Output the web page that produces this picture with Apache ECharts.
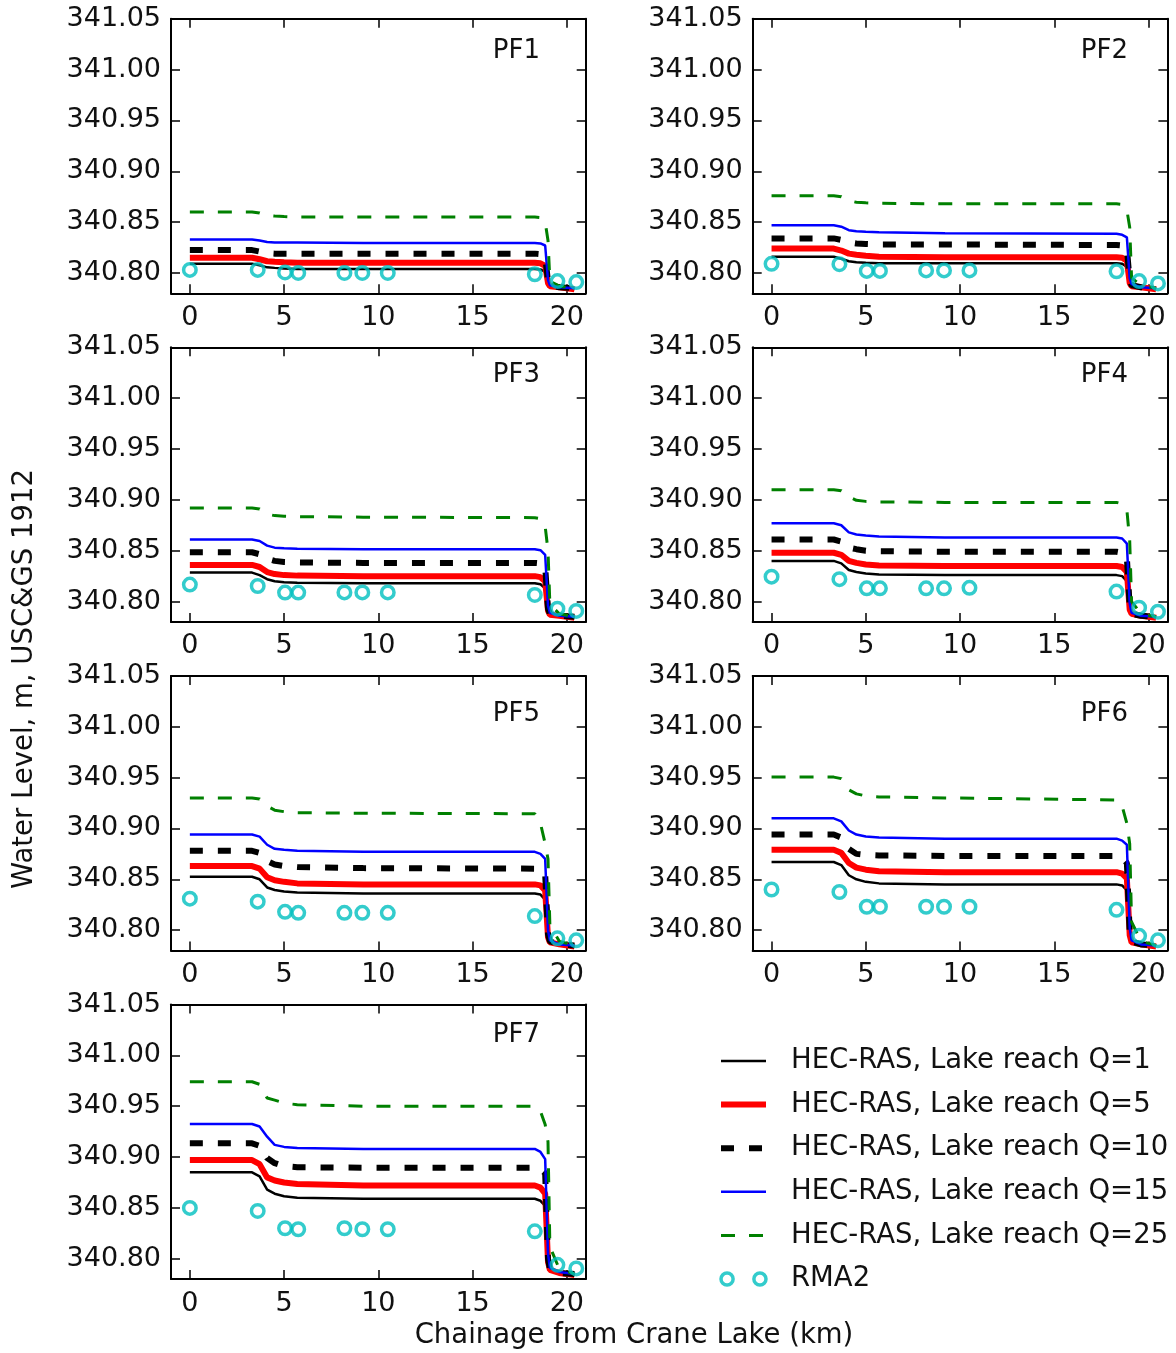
<!DOCTYPE html>
<html>
<head>
<meta charset="utf-8">
<title>Water level profiles</title>
<script src="https://cdn.jsdelivr.net/npm/echarts@6/dist/echarts.min.js"></script>
<style>
  html, body { margin: 0; background: #fff; }
  #chart { width: 1176px; height: 1353px; }
</style>
</head>
<body>
<div id="chart"></div>
<script>
// profile names (one panel each)
const panels = ['PF1', 'PF2', 'PF3', 'PF4', 'PF5', 'PF6', 'PF7'];

// chainage of the HEC-RAS profile points (km)
const chainage = [0, 3.3, 3.7, 4.1, 4.5, 5.0, 5.7, 9.2, 18.3, 18.6, 18.85, 19.0, 19.1, 19.6, 20.4];
// chainage of the RMA2 points (km)
const rmaChainage = [0, 3.6, 5.05, 5.75, 8.2, 9.15, 10.5, 18.3, 19.5, 20.5];

// HEC-RAS water levels, one row per panel (PF1..PF7)
const levelsQ1 = [
  [340.809, 340.809, 340.8075, 340.8055, 340.805, 340.8045, 340.804, 340.804, 340.804, 340.8035, 340.801, 340.789, 340.787, 340.786, 340.784],
  [340.816, 340.816, 340.814, 340.8115, 340.8105, 340.810, 340.8095, 340.8095, 340.8095, 340.809, 340.806, 340.789, 340.787, 340.786, 340.784],
  [340.8285, 340.8285, 340.826, 340.822, 340.820, 340.819, 340.8185, 340.818, 340.818, 340.817, 340.813, 340.790, 340.787, 340.786, 340.784],
  [340.840, 340.840, 340.8375, 340.831, 340.829, 340.8275, 340.8265, 340.826, 340.826, 340.825, 340.820, 340.791, 340.787, 340.786, 340.784],
  [340.8525, 340.8525, 340.850, 340.842, 340.8395, 340.838, 340.837, 340.836, 340.836, 340.835, 340.830, 340.792, 340.788, 340.786, 340.784],
  [340.867, 340.867, 340.864, 340.854, 340.850, 340.8475, 340.846, 340.845, 340.845, 340.844, 340.839, 340.793, 340.788, 340.786, 340.784],
  [340.885, 340.885, 340.881, 340.868, 340.864, 340.8615, 340.860, 340.859, 340.859, 340.857, 340.852, 340.795, 340.789, 340.786, 340.784]
];
const levelsQ5 = [
  [340.815, 340.815, 340.8135, 340.8115, 340.811, 340.8105, 340.810, 340.810, 340.810, 340.8095, 340.807, 340.790, 340.787, 340.786, 340.784],
  [340.824, 340.824, 340.822, 340.819, 340.818, 340.817, 340.816, 340.8155, 340.8155, 340.815, 340.812, 340.790, 340.787, 340.786, 340.784],
  [340.836, 340.836, 340.834, 340.829, 340.827, 340.826, 340.8255, 340.825, 340.825, 340.824, 340.820, 340.791, 340.787, 340.786, 340.784],
  [340.848, 340.848, 340.846, 340.840, 340.838, 340.8365, 340.8355, 340.835, 340.835, 340.834, 340.829, 340.792, 340.788, 340.786, 340.784],
  [340.863, 340.863, 340.8605, 340.852, 340.849, 340.8475, 340.846, 340.845, 340.845, 340.844, 340.839, 340.793, 340.788, 340.786, 340.784],
  [340.879, 340.879, 340.876, 340.866, 340.8615, 340.8595, 340.858, 340.857, 340.857, 340.8555, 340.851, 340.795, 340.788, 340.786, 340.784],
  [340.897, 340.897, 340.893, 340.880, 340.877, 340.875, 340.8735, 340.872, 340.872, 340.870, 340.864, 340.797, 340.789, 340.786, 340.784]
];
const levelsQ10 = [
  [340.8225, 340.8225, 340.821, 340.8195, 340.819, 340.819, 340.819, 340.819, 340.819, 340.8185, 340.816, 340.792, 340.788, 340.786, 340.785],
  [340.834, 340.834, 340.8325, 340.830, 340.829, 340.8285, 340.828, 340.828, 340.8275, 340.827, 340.824, 340.792, 340.788, 340.786, 340.785],
  [340.8485, 340.8485, 340.8465, 340.842, 340.840, 340.839, 340.8385, 340.838, 340.838, 340.8375, 340.834, 340.793, 340.788, 340.786, 340.785],
  [340.861, 340.861, 340.859, 340.853, 340.8515, 340.850, 340.8495, 340.849, 340.849, 340.848, 340.843, 340.795, 340.788, 340.786, 340.785],
  [340.878, 340.878, 340.876, 340.868, 340.8645, 340.863, 340.862, 340.861, 340.8605, 340.859, 340.855, 340.796, 340.789, 340.786, 340.785],
  [340.894, 340.894, 340.891, 340.880, 340.875, 340.874, 340.8735, 340.873, 340.873, 340.8715, 340.866, 340.798, 340.789, 340.786, 340.785],
  [340.9135, 340.9135, 340.911, 340.899, 340.894, 340.891, 340.890, 340.8895, 340.8895, 340.888, 340.884, 340.800, 340.790, 340.786, 340.785]
];
const levelsQ15 = [
  [340.833, 340.833, 340.832, 340.8305, 340.830, 340.830, 340.830, 340.8295, 340.8295, 340.829, 340.827, 340.793, 340.788, 340.786, 340.785],
  [340.847, 340.847, 340.8455, 340.842, 340.841, 340.8405, 340.840, 340.839, 340.8385, 340.8375, 340.835, 340.795, 340.789, 340.786, 340.785],
  [340.861, 340.861, 340.8595, 340.855, 340.853, 340.8525, 340.852, 340.8515, 340.8515, 340.8505, 340.846, 340.796, 340.789, 340.786, 340.785],
  [340.877, 340.877, 340.875, 340.868, 340.866, 340.865, 340.864, 340.863, 340.863, 340.862, 340.857, 340.798, 340.789, 340.786, 340.785],
  [340.894, 340.894, 340.892, 340.884, 340.880, 340.879, 340.878, 340.877, 340.877, 340.875, 340.870, 340.800, 340.790, 340.786, 340.785],
  [340.910, 340.910, 340.907, 340.898, 340.894, 340.892, 340.891, 340.890, 340.890, 340.888, 340.884, 340.802, 340.790, 340.786, 340.785],
  [340.9325, 340.9325, 340.930, 340.920, 340.912, 340.910, 340.909, 340.908, 340.908, 340.905, 340.898, 340.805, 340.791, 340.787, 340.785]
];
const levelsQ25 = [
  [340.860, 340.860, 340.859, 340.8565, 340.856, 340.8555, 340.855, 340.855, 340.855, 340.8545, 340.850, 340.832, 340.792, 340.787, 340.785],
  [340.876, 340.876, 340.875, 340.871, 340.8695, 340.869, 340.8685, 340.868, 340.868, 340.8675, 340.862, 340.845, 340.795, 340.788, 340.785],
  [340.892, 340.892, 340.891, 340.886, 340.8845, 340.884, 340.8835, 340.883, 340.8825, 340.8815, 340.874, 340.850, 340.797, 340.788, 340.785],
  [340.910, 340.910, 340.909, 340.903, 340.8995, 340.8985, 340.898, 340.8975, 340.8975, 340.896, 340.890, 340.860, 340.800, 340.788, 340.785],
  [340.930, 340.930, 340.929, 340.922, 340.918, 340.9165, 340.9155, 340.915, 340.9145, 340.905, 340.885, 340.870, 340.805, 340.789, 340.785],
  [340.9505, 340.9505, 340.949, 340.938, 340.934, 340.932, 340.931, 340.930, 340.928, 340.922, 340.905, 340.885, 340.808, 340.789, 340.785],
  [340.974, 340.974, 340.9715, 340.958, 340.956, 340.953, 340.9515, 340.950, 340.950, 340.945, 340.932, 340.915, 340.812, 340.790, 340.785]
];
// RMA2 water levels, one row per panel
const levelsRMA2 = [
  [340.803, 340.803, 340.8005, 340.800, 340.800, 340.800, 340.800, 340.7987, 340.792, 340.791],
  [340.809, 340.8086, 340.802, 340.802, 340.8025, 340.8025, 340.8025, 340.8016, 340.792, 340.7897],
  [340.8167, 340.8153, 340.8088, 340.8088, 340.809, 340.809, 340.809, 340.8065, 340.793, 340.7908],
  [340.8245, 340.822, 340.813, 340.813, 340.813, 340.813, 340.8135, 340.8098, 340.794, 340.790],
  [340.831, 340.828, 340.818, 340.817, 340.817, 340.817, 340.817, 340.8138, 340.792, 340.790],
  [340.840, 340.8375, 340.823, 340.823, 340.823, 340.823, 340.823, 340.820, 340.7944, 340.790],
  [340.850, 340.847, 340.830, 340.829, 340.830, 340.829, 340.829, 340.827, 340.794, 340.7905]
];

// axis ticks
const xTicks = [0, 5, 10, 15, 20];
const yTicks = [340.80, 340.85, 340.90, 340.95, 341.00, 341.05];

const chart = echarts.init(document.getElementById('chart'));

const FONT = 'DejaVu Sans';
const INK = '#111';
const colLeft = [171, 752.7];
const rowTop = [18.7, 347.3, 675.9, 1004.5];
const labelTop = [38, 362, 701, 1022]; // PF labels
const plotW = 414.7;
const plotH = 274.6;

// line styles of the five HEC-RAS runs
const runs = [
  { name: 'HEC-RAS, Lake reach Q=1', data: levelsQ1, line: { color: '#000000', width: 2.5, type: 'solid' } },
  { name: 'HEC-RAS, Lake reach Q=5', data: levelsQ5, line: { color: '#ff0000', width: 6, type: 'solid' } },
  { name: 'HEC-RAS, Lake reach Q=10', data: levelsQ10, line: { color: '#000000', width: 6, type: [13, 15] } },
  { name: 'HEC-RAS, Lake reach Q=15', data: levelsQ15, line: { color: '#0000ff', width: 2.5, type: 'solid' } },
  { name: 'HEC-RAS, Lake reach Q=25', data: levelsQ25, line: { color: '#008000', width: 3, type: [14, 14] } }
];

const axisLine = { show: true, onZero: false, lineStyle: { color: '#000', width: 2 } };
const tickStyle = { color: '#000', width: 1.5 };
const labelStyle = { fontSize: 27, fontFamily: FONT, color: INK };
const ring = { color: 'rgba(255,255,255,0)', borderColor: '#00bfbf', borderWidth: 3.5 };

const grid = [], xAxis = [], yAxis = [], series = [], title = [];

panels.forEach((pf, p) => {
  const c = p % 2, r = Math.floor(p / 2);
  grid.push({ left: colLeft[c], top: rowTop[r], width: plotW, height: plotH });

  // bottom + top x axes
  xAxis.push({
    type: 'value', gridIndex: p, position: 'bottom', min: -1, max: 21,
    axisLine: axisLine,
    axisTick: { show: true, inside: true, length: 9, customValues: xTicks, lineStyle: tickStyle },
    axisLabel: Object.assign({ show: true, margin: 11, customValues: xTicks }, labelStyle),
    splitLine: { show: false }
  });
  xAxis.push({
    type: 'value', gridIndex: p, position: 'top', min: -1, max: 21,
    axisLine: axisLine,
    axisTick: { show: true, inside: true, length: 9, customValues: xTicks, lineStyle: tickStyle },
    axisLabel: { show: false },
    splitLine: { show: false }
  });
  // left + right y axes
  yAxis.push({
    type: 'value', gridIndex: p, position: 'left', min: 340.78, max: 341.05,
    axisLine: axisLine,
    axisTick: { show: true, inside: true, length: 9, customValues: yTicks, lineStyle: tickStyle },
    axisLabel: Object.assign({ show: true, margin: 10, customValues: yTicks, formatter: v => v.toFixed(2) }, labelStyle),
    splitLine: { show: false }
  });
  yAxis.push({
    type: 'value', gridIndex: p, position: 'right', min: 340.78, max: 341.05,
    axisLine: axisLine,
    axisTick: { show: true, inside: true, length: 9, customValues: yTicks, lineStyle: tickStyle },
    axisLabel: { show: false },
    splitLine: { show: false }
  });

  runs.forEach(run => {
    series.push({
      name: run.name, type: 'line', xAxisIndex: 2 * p, yAxisIndex: 2 * p,
      symbol: 'none', showSymbol: false, clip: true, silent: true,
      lineStyle: { color: run.line.color, width: run.line.width, type: run.line.type, cap: 'butt' },
      itemStyle: { color: run.line.color },
      data: chainage.map((x, i) => [x, run.data[p][i]])
    });
  });
  series.push({
    name: 'RMA2', type: 'scatter', xAxisIndex: 2 * p, yAxisIndex: 2 * p,
    symbol: 'circle', symbolSize: 12.5, silent: true, z: 5,
    itemStyle: ring,
    data: rmaChainage.map((x, i) => [x, levelsRMA2[p][i]])
  });

  title.push({
    text: pf, right: c === 0 ? 1176 - 540 : 1176 - 1128, top: labelTop[r], padding: 0,
    textStyle: { fontSize: 26, fontWeight: 'normal', fontFamily: FONT, color: INK }
  });
});

const option = {
  backgroundColor: '#ffffff',
  animation: false,
  title: title,
  grid: grid,
  xAxis: xAxis,
  yAxis: yAxis,
  legend: {
    orient: 'vertical', left: 718, top: 1047, padding: 0,
    itemWidth: 45, itemHeight: 16, itemGap: 15.6, selectedMode: false,
    textStyle: { fontSize: 27.5, fontFamily: FONT, color: INK, padding: [0, 0, 0, 20] },
    data: runs.map(r => ({
      name: r.name,
      itemStyle: { opacity: 0 },
      lineStyle: { color: r.line.color, width: r.line.width, type: r.line.type, cap: 'butt' }
    })).concat([{
      name: 'RMA2',
      icon: 'path://M1,8a7,7 0 1,0 14,0a7,7 0 1,0 -14,0M39,8a7,7 0 1,0 14,0a7,7 0 1,0 -14,0',
      itemStyle: ring
    }])
  },
  graphic: [
    {
      type: 'text', x: 25, y: 679, rotation: Math.PI / 2,
      style: { text: 'Water Level, m, USC&GS 1912', font: '27.5px "DejaVu Sans"', fill: INK, align: 'center', verticalAlign: 'middle' }
    },
    {
      type: 'text', x: 634, y: 1336,
      style: { text: 'Chainage from Crane Lake (km)', font: '27.5px "DejaVu Sans"', fill: INK, align: 'center', verticalAlign: 'middle' }
    }
  ],
  series: series
};

chart.setOption(option);
window.addEventListener('resize', function () {
  chart.resize();
});
</script>
</body>
</html>
